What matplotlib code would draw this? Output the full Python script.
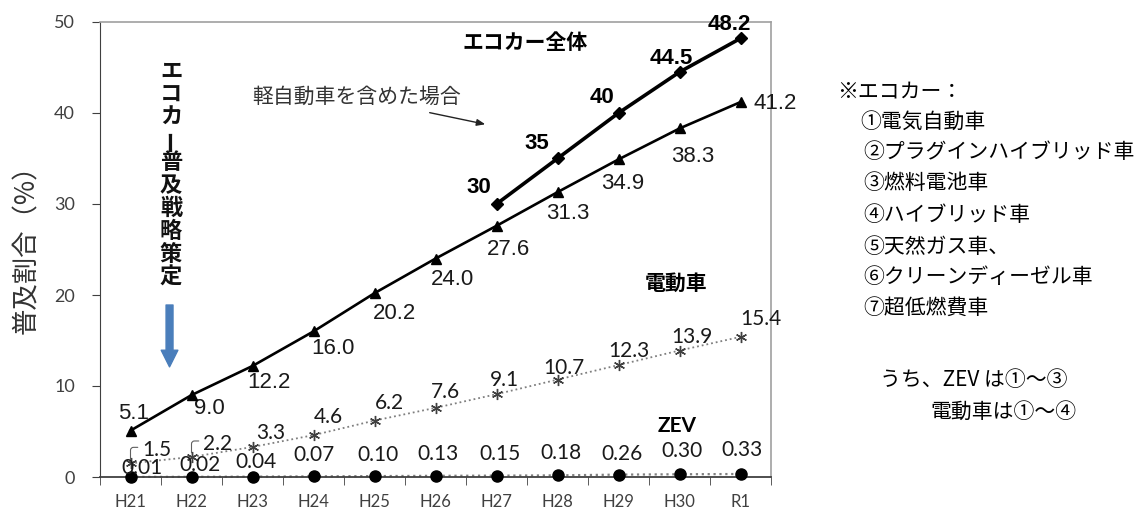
import matplotlib
matplotlib.use("Agg")
import matplotlib.pyplot as plt
import numpy as np

plt.rcParams['font.family'] = ['Noto Sans CJK JP', 'DejaVu Sans']

# data
years = ['H21', 'H22', 'H23', 'H24', 'H25', 'H26', 'H27', 'H28', 'H29', 'H30', 'R1']
ecocar = [5.1, 9.0, 12.2, 16.0, 20.2, 24.0, 27.6, 31.3, 34.9, 38.3, 41.2]
ecocar_kei = [30, 35, 40, 44.5, 48.2]          # H27 .. R1 (incl. kei cars)
electric = [1.5, 2.2, 3.3, 4.6, 6.2, 7.6, 9.1, 10.7, 12.3, 13.9, 15.4]
zev = [0.01, 0.02, 0.04, 0.07, 0.10, 0.13, 0.15, 0.18, 0.26, 0.30, 0.33]

ecocar_txt = ['5.1', '9.0', '12.2', '16.0', '20.2', '24.0', '27.6', '31.3', '34.9', '38.3', '41.2']
kei_txt = ['30', '35', '40', '44.5', '48.2']
electric_txt = ['1.5', '2.2', '3.3', '4.6', '6.2', '7.6', '9.1', '10.7', '12.3', '13.9', '15.4']
zev_txt = ['0.01', '0.02', '0.04', '0.07', '0.10', '0.13', '0.15', '0.18', '0.26', '0.30', '0.33']

note_lines = ['※エコカー：', '①電気自動車', '②プラグインハイブリッド車', '③燃料電池車',
              '④ハイブリッド車', '⑤天然ガス車、', '⑥クリーンディーゼル車', '⑦超低燃費車']

# label offsets in pixels (x, y up)
eco_off = [(3, 17), (18, -13), (16, -17), (19, -17), (20, -20), (17, -21), (12, -24),
           (10, -21), (4, -24), (13, -28), (35, -1)]
kei_off = [(-18, 16), (-21, 15), (-17, 15), (-8, 14), (-11, 14)]
ele_off = [(26, 13), (26, 13), (18, 14), (15, 18), (15, 18), (10, 16), (8, 14), (6, 12),
           (10, 14), (12, 14), (20, 18)]
zev_off = [(12, 9), (9, 12), (3, 15), (1, 21), (3, 21), (2, 22), (3, 22), (3, 22),
           (3, 21), (3, 23), (2, 24)]

x = np.arange(len(years))
xk = x[6:]

fig = plt.figure(figsize=(11.35, 5.15), dpi=100)
ax = fig.add_axes([100/1135, 38/515, 671/1135, 455/515])

ax.plot(x, zev, ':', color='#808080', lw=1.6, zorder=2, clip_on=False)
ax.plot(x, zev, 'o', color='black', ms=8, zorder=6, clip_on=False)
ax.plot(x, electric, ':', color='#7f7f7f', lw=1.3, marker=(6, 2, 0), ms=8,
        mec='#404040', mew=1.0, zorder=3)
ax.plot(x, ecocar, '-', color='black', lw=1.9, marker='^', ms=7, zorder=4)
ax.plot(xk, ecocar_kei, '-', color='black', lw=2.6, marker='D', ms=6, zorder=5)

for i in range(len(x)):
    ax.annotate(ecocar_txt[i], (x[i], ecocar[i]), xytext=eco_off[i], textcoords='offset pixels',
                ha='center', va='center', fontsize=16, family='Liberation Sans', color='#1a1a1a')
    ax.annotate(zev_txt[i], (x[i], zev[i]), xytext=zev_off[i], textcoords='offset pixels',
                ha='center', va='center', fontsize=15, family='Lato', color='#1a1a1a', zorder=7)
    if i < 2:
        # small leader line for the first two labels
        ax.annotate(electric_txt[i], (x[i], electric[i]), xytext=ele_off[i], textcoords='offset pixels',
                    ha='center', va='center', fontsize=15, family='Lato', color='#1a1a1a',
                    arrowprops=dict(arrowstyle='-', color='#606060', lw=0.8,
                                    shrinkA=1, shrinkB=3, relpos=(0, 0.65),
                                    connectionstyle='angle,angleA=180,angleB=90,rad=3'))
    else:
        ax.annotate(electric_txt[i], (x[i], electric[i]), xytext=ele_off[i], textcoords='offset pixels',
                    ha='center', va='center', fontsize=15, family='Lato', color='#1a1a1a')

for i in range(len(xk)):
    ax.annotate(kei_txt[i], (xk[i], ecocar_kei[i]), xytext=kei_off[i], textcoords='offset pixels',
                ha='center', va='center', fontsize=16, family='Liberation Sans',
                fontweight='bold', color='black')

# annotations in the plot
ax.text(6.47, 47.7, 'エコカー全体', ha='center', va='center', fontsize=15, fontweight='bold')
ax.text(8.94, 21.3, '電動車', ha='center', va='center', fontsize=15, fontweight='bold')
ax.text(8.96, 5.6, 'ZEV', ha='center', va='center', fontsize=15, fontweight='bold', family='Lato')
ax.text(3.71, 41.8, '軽自動車を含めた場合', ha='center', va='center', fontsize=15, color='#333333')
ax.annotate('', xy=(5.86, 38.7), xytext=(4.86, 40.1),
            arrowprops=dict(arrowstyle='-|>,head_length=0.5,head_width=0.2', color='#222222', lw=1.0))

# vertical strategy label (written top to bottom) + blue arrow
vert = 'エコカー普及戦略策定'
for k, ch in enumerate(vert):
    rot = 90 if ch == 'ー' else 0
    ax.annotate(ch, (0.664, 44.6), xytext=(0, -22.9*k), textcoords='offset pixels',
                ha='center', va='center', fontsize=16, fontweight='bold', color='#111111',
                rotation=rot)
ax.annotate('', xy=(0.64, 12.1), xytext=(0.64, 18.9),
            arrowprops=dict(arrowstyle='simple,head_length=0.6,head_width=0.6,tail_width=0.25',
                            color='#4a7ebb', mutation_scale=20, shrinkA=0, shrinkB=0))

ax.set_xlim(-0.5, 10.5)
ax.set_ylim(0, 50)
ax.set_xticks(x)
ax.set_xticklabels(years, family='Lato', fontsize=12, color='#404040')
ax.set_xticks(np.arange(-0.5, 10.6, 1), minor=True)
ax.tick_params(axis='x', which='major', length=0, pad=12)
ax.tick_params(axis='x', which='minor', length=6, direction='out', color='#404040')
ax.set_yticks(np.arange(0, 51, 10))
ax.set_yticklabels([str(v) for v in range(0, 51, 10)], family='Lato', fontsize=13, color='#404040')
ax.tick_params(axis='y', length=6, direction='out', pad=12, color='#404040')

for s in ['top', 'right']:
    ax.spines[s].set_color('#a0a0a0')
    ax.spines[s].set_linewidth(1.2)
ax.spines['left'].set_color('#404040')
ax.spines['bottom'].set_color('#404040')
ax.spines['bottom'].set_linewidth(1.3)

fig.text(27/1135, 1 - 243/515, '普及割合（%）', rotation=90, ha='center', va='center',
         fontsize=19, color='#333333')

# right side note
note_y = [92, 122, 152, 183, 215, 247, 277, 308]
note_x = [837, 860, 863, 863, 863, 863, 863, 863]
for t, xx, yy in zip(note_lines, note_x, note_y):
    fig.text(xx/1135, 1 - yy/515, t, ha='left', va='center', fontsize=15, color='black')
fig.text(880/1135, 1 - 380/515, 'うち、ZEV は①～③', ha='left', va='center', fontsize=15)
fig.text(930/1135, 1 - 412/515, '電動車は①～④', ha='left', va='center', fontsize=15)

fig.savefig('out.png', dpi=100)
